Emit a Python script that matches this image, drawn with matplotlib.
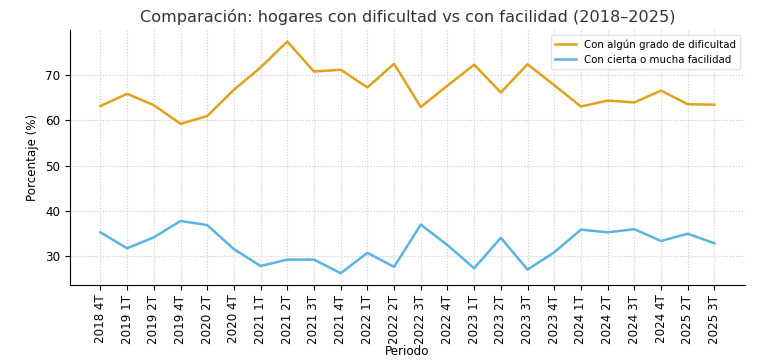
import matplotlib
matplotlib.use('Agg')
import matplotlib.pyplot as plt

periodos = ['2018 4T', '2019 1T', '2019 2T', '2019 4T', '2020 2T', '2020 4T',
            '2021 1T', '2021 2T', '2021 3T', '2021 4T', '2022 1T', '2022 2T',
            '2022 3T', '2022 4T', '2023 1T', '2023 2T', '2023 3T', '2023 4T',
            '2024 1T', '2024 2T', '2024 3T', '2024 4T', '2025 2T', '2025 3T']

dificultad = [63.1, 65.8, 63.3, 59.2, 60.9, 66.7, 71.6, 77.3, 70.7, 71.1, 67.2, 72.4,
              62.9, 67.6, 72.2, 66.1, 72.3, 67.7, 63.0, 64.3, 63.9, 66.5, 63.5, 63.4]

facilidad = [35.3, 31.8, 34.2, 37.8, 36.9, 31.6, 27.9, 29.3, 29.3, 26.3, 30.8, 27.7,
             37.0, 32.5, 27.4, 34.1, 27.1, 30.9, 35.9, 35.3, 36.0, 33.4, 35.0, 32.9]

fig, ax = plt.subplots(figsize=(7.58, 3.61), dpi=100)
fig.subplots_adjust(left=0.092, right=0.983, top=0.917, bottom=0.211)

x = range(len(periodos))
ax.plot(x, dificultad, color='#E2A11B', linewidth=1.8, label='Con algún grado de dificultad')
ax.plot(x, facilidad, color='#5AB4E2', linewidth=1.8, label='Con cierta o mucha facilidad')

ax.set_xticks(list(x))
ax.set_xticklabels(periodos, rotation=90, fontsize=8.6)
ax.tick_params(axis='y', labelsize=8.6)
ax.set_yticks([30, 40, 50, 60, 70])

ax.set_title('Comparación: hogares con dificultad vs con facilidad (2018–2025)', fontsize=11.6, color='#333333')
ax.set_xlabel('Periodo', fontsize=8.6, labelpad=1)
ax.set_ylabel('Porcentaje (%)', fontsize=8.6)

ax.grid(True, linestyle=':', color='#cccccc', linewidth=0.8)
ax.spines['top'].set_visible(False)
ax.spines['right'].set_visible(False)

ax.legend(loc='upper right', fontsize=7.4, frameon=True, fancybox=False, edgecolor='#dddddd')

fig.savefig('out.png', dpi=100)
